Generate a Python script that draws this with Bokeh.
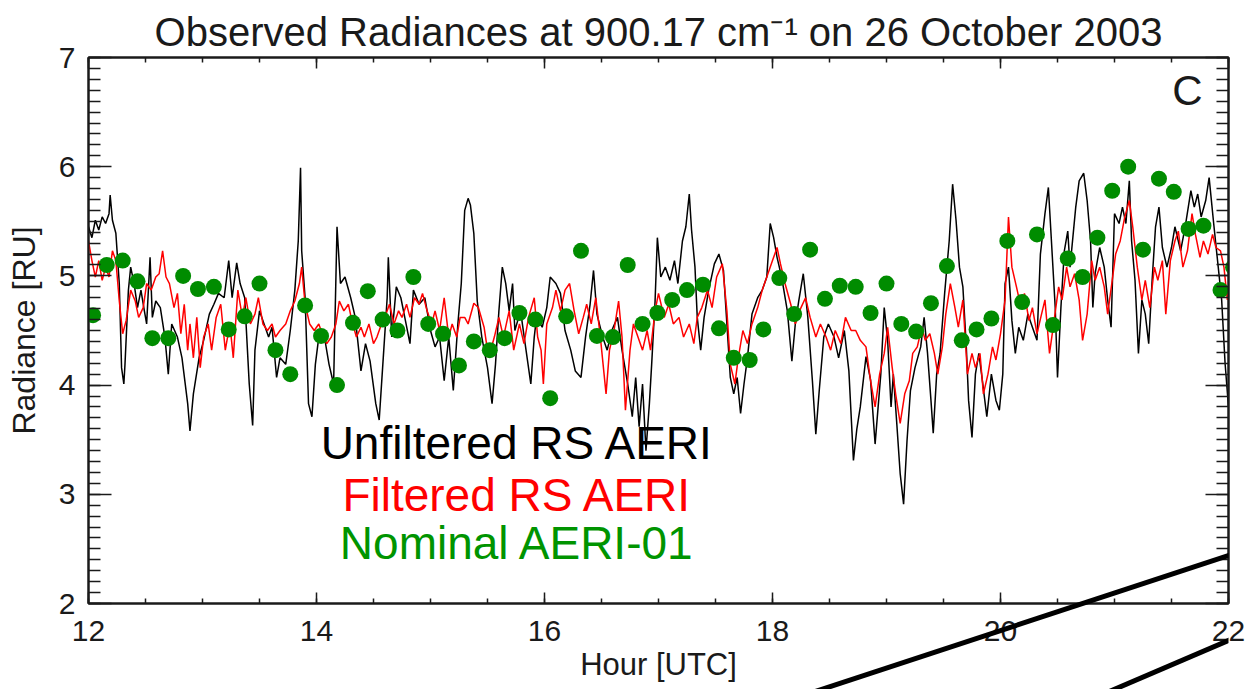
from bokeh.plotting import figure
from bokeh.models import Range1d, SingleIntervalTicker, LinearAxis, Label
from bokeh.layouts import column
from bokeh.embed import file_html
from bokeh.resources import INLINE

# ---------------- data ----------------
unfilt_hour = [12.00, 12.03, 12.06, 12.09, 12.12, 12.15, 12.18, 12.19, 12.21, 12.24,
               12.27, 12.29, 12.31, 12.32, 12.35, 12.37, 12.40, 12.43, 12.46, 12.49,
               12.51, 12.54, 12.56, 12.59, 12.63, 12.67, 12.70, 12.73, 12.78, 12.82,
               12.87, 12.89, 12.92, 12.97, 13.01, 13.06, 13.10, 13.14, 13.19, 13.23,
               13.26, 13.30, 13.33, 13.37, 13.41, 13.44, 13.46, 13.50, 13.54, 13.58,
               13.61, 13.65, 13.68, 13.73, 13.77, 13.81, 13.84, 13.86, 13.87, 13.90,
               13.93, 13.96, 13.99, 14.02, 14.06, 14.11, 14.15, 14.18, 14.21, 14.25,
               14.30, 14.34, 14.39, 14.43, 14.47, 14.52, 14.55, 14.59, 14.62, 14.63,
               14.66, 14.70, 14.74, 14.78, 14.82, 14.85, 14.90, 14.95, 15.00, 15.04,
               15.08, 15.12, 15.16, 15.20, 15.24, 15.27, 15.30, 15.33, 15.35, 15.38,
               15.41, 15.45, 15.50, 15.54, 15.57, 15.60, 15.63, 15.66, 15.69, 15.72,
               15.74, 15.79, 15.83, 15.88, 15.91, 15.93, 15.98, 16.02, 16.05, 16.10,
               16.14, 16.18, 16.23, 16.27, 16.32, 16.36, 16.40, 16.43, 16.46, 16.51,
               16.55, 16.59, 16.64, 16.68, 16.73, 16.77, 16.80, 16.83, 16.86, 16.89,
               16.92, 16.94, 16.97, 16.99, 17.02, 17.06, 17.10, 17.14, 17.17, 17.21,
               17.24, 17.27, 17.29, 17.32, 17.34, 17.37, 17.40, 17.44, 17.49, 17.53,
               17.57, 17.60, 17.63, 17.66, 17.69, 17.72, 17.75, 17.78, 17.82, 17.87,
               17.91, 17.95, 17.98, 18.01, 18.04, 18.08, 18.13, 18.17, 18.20, 18.23,
               18.27, 18.31, 18.35, 18.38, 18.41, 18.45, 18.49, 18.54, 18.58, 18.63,
               18.67, 18.71, 18.74, 18.77, 18.82, 18.86, 18.90, 18.95, 18.98, 19.01,
               19.04, 19.06, 19.09, 19.12, 19.15, 19.18, 19.21, 19.25, 19.30, 19.33,
               19.36, 19.39, 19.41, 19.44, 19.47, 19.51, 19.55, 19.58, 19.61, 19.64,
               19.67, 19.70, 19.72, 19.75, 19.78, 19.81, 19.84, 19.88, 19.92, 19.96,
               19.99, 20.02, 20.04, 20.07, 20.10, 20.13, 20.16, 20.20, 20.24, 20.28,
               20.32, 20.35, 20.39, 20.42, 20.45, 20.48, 20.50, 20.53, 20.56, 20.59,
               20.61, 20.66, 20.69, 20.73, 20.76, 20.79, 20.81, 20.83, 20.87, 20.91,
               20.94, 20.97, 21.00, 21.04, 21.07, 21.10, 21.13, 21.15, 21.18, 21.21,
               21.24, 21.27, 21.30, 21.33, 21.36, 21.39, 21.42, 21.46, 21.50, 21.53,
               21.58, 21.62, 21.67, 21.70, 21.73, 21.76, 21.80, 21.83, 21.87, 21.91,
               21.94, 21.97, 22.00]
unfilt_rad = [5.45, 5.35, 5.51, 5.42, 5.54, 5.48, 5.57, 5.74, 5.51, 5.39,
              4.93, 4.16, 4.01, 4.19, 4.87, 5.08, 4.93, 4.71, 4.87, 4.68,
              4.56, 5.17, 4.62, 4.77, 4.71, 4.44, 4.10, 4.56, 4.44, 4.25,
              3.83, 3.58, 3.92, 4.25, 4.41, 4.65, 4.74, 4.84, 4.80, 5.14,
              4.80, 5.12, 4.93, 4.80, 4.01, 3.63, 4.32, 4.68, 4.56, 4.44,
              4.53, 4.07, 4.25, 4.19, 4.50, 4.87, 5.32, 5.99, 5.23, 4.80,
              3.83, 3.71, 4.19, 4.44, 4.50, 4.19, 4.01, 5.45, 4.93, 4.99,
              4.80, 4.62, 4.13, 4.38, 4.22, 3.83, 3.68, 4.32, 4.80, 5.17,
              4.44, 4.90, 4.80, 4.59, 4.38, 4.87, 4.74, 4.80, 4.50, 4.35,
              4.44, 4.04, 4.44, 3.95, 4.56, 4.93, 5.60, 5.71, 5.65, 5.39,
              4.77, 4.44, 4.16, 3.83, 4.19, 4.68, 5.08, 4.93, 4.68, 4.93,
              4.50, 4.68, 4.38, 4.01, 4.44, 4.62, 4.53, 4.71, 4.99, 4.93,
              4.84, 4.50, 4.32, 4.13, 4.07, 4.44, 4.74, 5.05, 4.65, 4.44,
              4.32, 4.50, 4.62, 4.32, 4.01, 3.71, 4.07, 3.62, 4.01, 3.40,
              3.83, 4.19, 4.77, 5.35, 4.99, 5.08, 4.96, 5.14, 4.93, 5.32,
              5.45, 5.75, 5.42, 5.08, 4.62, 4.32, 4.62, 4.87, 5.11, 5.20,
              5.05, 4.56, 4.07, 3.92, 4.07, 3.74, 4.01, 4.25, 4.65, 4.80,
              4.87, 4.99, 5.48, 5.35, 5.17, 4.99, 4.68, 4.22, 4.56, 4.77,
              5.02, 4.62, 4.04, 3.55, 3.95, 4.44, 4.56, 4.44, 4.25, 4.50,
              4.13, 3.31, 3.60, 3.80, 4.26, 4.05, 3.46, 4.10, 4.71, 4.41,
              3.80, 4.10, 3.65, 3.19, 2.91, 3.49, 3.95, 4.16, 4.35, 4.62,
              4.29, 3.86, 3.56, 4.10, 4.29, 4.84, 5.32, 5.84, 5.51, 5.08,
              4.90, 4.35, 3.86, 3.52, 4.10, 4.29, 4.05, 3.71, 4.10, 3.86,
              3.77, 4.10, 4.93, 5.08, 4.59, 4.29, 4.53, 4.41, 4.65, 4.53,
              4.41, 5.20, 5.57, 5.81, 5.26, 4.71, 4.07, 4.71, 5.23, 5.41,
              5.08, 5.63, 5.87, 5.94, 5.69, 5.32, 4.71, 5.02, 5.26, 5.08,
              4.78, 4.53, 5.57, 5.48, 5.63, 5.48, 5.87, 5.32, 4.96, 4.29,
              4.78, 4.65, 4.38, 4.96, 5.45, 5.63, 5.26, 5.08, 5.26, 5.45,
              5.23, 5.45, 5.78, 5.63, 5.75, 5.54, 5.69, 5.90, 5.48, 5.08,
              4.78, 4.20, 3.80]

filt_hour = [12.00, 12.03, 12.06, 12.09, 12.12, 12.15, 12.18, 12.21, 12.24, 12.27,
             12.30, 12.33, 12.37, 12.41, 12.44, 12.48, 12.51, 12.55, 12.59, 12.62,
             12.65, 12.68, 12.71, 12.75, 12.78, 12.81, 12.84, 12.87, 12.89, 12.92,
             12.95, 12.98, 13.01, 13.05, 13.08, 13.12, 13.16, 13.20, 13.24, 13.27,
             13.31, 13.35, 13.38, 13.42, 13.46, 13.49, 13.53, 13.57, 13.61, 13.64,
             13.68, 13.73, 13.77, 13.81, 13.85, 13.87, 13.90, 13.94, 13.98, 14.02,
             14.06, 14.09, 14.13, 14.17, 14.20, 14.24, 14.28, 14.31, 14.35, 14.39,
             14.42, 14.46, 14.50, 14.53, 14.57, 14.61, 14.64, 14.68, 14.72, 14.75,
             14.79, 14.82, 14.86, 14.90, 14.93, 14.97, 15.01, 15.04, 15.08, 15.12,
             15.16, 15.19, 15.23, 15.26, 15.30, 15.33, 15.38, 15.42, 15.47, 15.51,
             15.56, 15.60, 15.64, 15.69, 15.73, 15.78, 15.82, 15.86, 15.91, 15.94,
             15.97, 15.99, 16.02, 16.07, 16.10, 16.14, 16.18, 16.22, 16.26, 16.30,
             16.34, 16.37, 16.41, 16.45, 16.49, 16.54, 16.57, 16.61, 16.65, 16.68,
             16.71, 16.75, 16.78, 16.82, 16.86, 16.90, 16.93, 16.97, 17.00, 17.05,
             17.09, 17.13, 17.18, 17.22, 17.27, 17.31, 17.34, 17.38, 17.43, 17.47,
             17.51, 17.56, 17.60, 17.63, 17.67, 17.70, 17.74, 17.78, 17.82, 17.87,
             17.91, 17.95, 18.00, 18.04, 18.07, 18.11, 18.16, 18.20, 18.25, 18.29,
             18.33, 18.38, 18.42, 18.47, 18.51, 18.55, 18.60, 18.64, 18.69, 18.73,
             18.77, 18.82, 18.86, 18.90, 18.94, 18.98, 19.01, 19.05, 19.08, 19.12,
             19.16, 19.20, 19.23, 19.27, 19.31, 19.34, 19.38, 19.42, 19.45, 19.49,
             19.52, 19.56, 19.60, 19.63, 19.67, 19.71, 19.75, 19.78, 19.82, 19.85,
             19.89, 19.93, 19.96, 20.00, 20.04, 20.07, 20.10, 20.14, 20.18, 20.21,
             20.25, 20.28, 20.32, 20.36, 20.39, 20.43, 20.47, 20.51, 20.54, 20.58,
             20.61, 20.65, 20.69, 20.72, 20.76, 20.80, 20.83, 20.87, 20.91, 20.94,
             20.98, 21.01, 21.05, 21.09, 21.13, 21.16, 21.20, 21.24, 21.27, 21.31,
             21.35, 21.38, 21.42, 21.45, 21.49, 21.53, 21.56, 21.60, 21.64, 21.68,
             21.71, 21.75, 21.78, 21.82, 21.86, 21.89, 21.93, 21.96, 21.99, 22.00]
filt_rad = [5.32, 5.14, 4.99, 5.14, 4.96, 5.08, 4.99, 5.23, 5.14, 4.77,
            4.47, 4.59, 4.87, 4.77, 4.62, 4.71, 4.93, 4.87, 4.99, 5.02,
            5.23, 4.99, 4.93, 4.71, 4.84, 4.47, 4.74, 4.32, 4.56, 4.25,
            4.62, 4.16, 4.44, 4.56, 4.32, 4.62, 4.74, 4.32, 4.56, 4.25,
            4.87, 4.62, 4.80, 4.56, 4.65, 4.80, 4.56, 4.50, 4.56, 4.44,
            4.50, 4.56, 4.68, 4.77, 4.93, 5.08, 4.74, 4.56, 4.50, 4.56,
            4.44, 4.38, 4.44, 4.56, 4.77, 4.68, 4.74, 4.59, 4.44, 4.53,
            4.44, 4.56, 4.38, 4.44, 4.56, 4.65, 4.74, 4.56, 4.68, 4.62,
            4.74, 4.62, 4.80, 4.74, 4.84, 4.68, 4.56, 4.68, 4.50, 4.80,
            4.44, 4.56, 4.44, 4.62, 4.62, 4.56, 4.75, 4.71, 4.53, 4.25,
            4.44, 4.62, 4.44, 4.68, 4.32, 4.56, 4.38, 4.62, 4.80, 4.44,
            4.32, 4.01, 4.56, 4.71, 4.87, 4.68, 4.87, 4.93, 4.68, 4.47,
            4.62, 4.74, 4.56, 4.80, 4.44, 3.92, 4.32, 4.50, 4.77, 4.44,
            3.77, 4.32, 4.56, 4.44, 4.32, 4.50, 4.32, 4.68, 4.84, 4.62,
            4.74, 4.56, 4.62, 4.44, 4.56, 4.38, 4.62, 4.71, 4.87, 4.71,
            4.99, 5.11, 4.68, 4.19, 4.01, 4.25, 4.50, 4.38, 4.56, 4.71,
            4.87, 4.99, 5.14, 5.26, 5.11, 4.93, 4.74, 4.56, 4.71, 4.80,
            4.62, 4.44, 4.56, 4.44, 4.32, 4.50, 4.38, 4.62, 4.50, 4.50,
            4.41, 4.35, 4.04, 3.80, 4.10, 4.29, 4.53, 4.16, 3.92, 3.65,
            3.92, 4.04, 4.29, 4.35, 4.53, 4.41, 4.47, 4.29, 4.10, 4.35,
            4.65, 4.93, 4.71, 4.53, 4.78, 4.10, 4.29, 4.16, 4.29, 3.92,
            4.10, 4.35, 4.23, 4.47, 4.78, 5.54, 5.08, 4.90, 4.71, 4.84,
            4.59, 4.71, 4.47, 4.65, 4.78, 4.29, 4.59, 4.90, 4.78, 5.08,
            4.90, 5.02, 4.78, 4.41, 4.65, 5.14, 4.96, 5.08, 4.90, 4.65,
            4.96, 5.20, 5.32, 5.54, 5.69, 5.45, 5.08, 4.78, 4.96, 4.71,
            5.08, 4.96, 5.14, 4.65, 5.14, 5.32, 5.41, 5.08, 5.23, 5.57,
            5.38, 5.17, 5.32, 5.20, 5.38, 5.26, 5.23, 5.08, 4.78, 4.87]

nominal_hour = [12.04, 12.16, 12.30, 12.43, 12.56, 12.70, 12.83, 12.96, 13.10, 13.23,
                13.37, 13.50, 13.64, 13.77, 13.90, 14.04, 14.18, 14.32, 14.45, 14.58,
                14.71, 14.85, 14.98, 15.11, 15.25, 15.38, 15.52, 15.65, 15.78, 15.92,
                16.05, 16.19, 16.32, 16.46, 16.60, 16.73, 16.86, 16.99, 17.12, 17.25,
                17.39, 17.53, 17.66, 17.80, 17.92, 18.06, 18.19, 18.33, 18.46, 18.59,
                18.73, 18.86, 19.00, 19.13, 19.26, 19.39, 19.53, 19.66, 19.79, 19.92,
                20.06, 20.19, 20.32, 20.46, 20.59, 20.72, 20.85, 20.98, 21.12, 21.25,
                21.39, 21.52, 21.65, 21.78, 21.93, 22.04]
nominal_rad = [4.64, 5.10, 5.14, 4.95, 4.43, 4.43, 5.00, 4.88, 4.90, 4.51,
               4.63, 4.93, 4.32, 4.10, 4.73, 4.45, 4.00, 4.57, 4.86, 4.60,
               4.50, 4.99, 4.56, 4.47, 4.18, 4.40, 4.32, 4.43, 4.66, 4.60,
               3.88, 4.63, 5.23, 4.45, 4.44, 5.10, 4.56, 4.66, 4.78, 4.87,
               4.92, 4.52, 4.25, 4.23, 4.51, 4.98, 4.65, 5.24, 4.79, 4.91,
               4.90, 4.66, 4.93, 4.56, 4.49, 4.75, 5.09, 4.41, 4.51, 4.61,
               5.32, 4.76, 5.38, 4.55, 5.16, 4.99, 5.35, 5.78, 6.00, 5.24,
               5.89, 5.77, 5.43, 5.46, 4.87, 5.08]

legend_names = ["Unfiltered RS AERI", "Filtered RS AERI", "Nominal AERI-01"]
title_text = "Observed Radiances at 900.17 cm\u207b\u00b9 on 26 October 2003"
panel_letter = "C"

# two stray black strokes across the lower right of the original image (hour, radiance)
stroke_hours = [[18.05, 22.30], [20.90, 22.30]]
stroke_rads = [[1.15, 2.487], [1.15, 1.723]]

# ---------------- styling ----------------
W, H = 1245, 689
FONT = "Liberation Sans"
INK = "#1a1a1a"
BLACK = "#000000"
RED = "#ff0000"
GREEN = "#008c00"
GREEN_TXT = "#009400"

p = figure(width=W, height=H, x_range=Range1d(12, 22), y_range=Range1d(2, 7),
           output_backend="svg", toolbar_location=None,
           min_border_left=88, min_border_right=17, min_border_top=57, min_border_bottom=86,
           x_axis_label="Hour [UTC]", y_axis_label="Radiance [RU]",
           title=title_text)
p.title.text_font = FONT
p.title.text_font_size = "40px"
p.title.text_font_style = "normal"
p.title.text_color = INK
p.title.align = "center"
p.title.standoff = 8
p.xgrid.visible = False
p.ygrid.visible = False
p.outline_line_color = INK
p.outline_line_width = 2
p.background_fill_color = "white"
p.border_fill_color = "white"

xt = SingleIntervalTicker(interval=2, num_minor_ticks=4)
yt = SingleIntervalTicker(interval=1, num_minor_ticks=10)
p.xaxis.ticker = xt
p.yaxis.ticker = yt


def style_axis(ax, major_in, minor_in):
    ax.axis_line_color = INK
    ax.axis_line_width = 2
    ax.major_tick_in = major_in
    ax.major_tick_out = 0
    ax.minor_tick_in = minor_in
    ax.minor_tick_out = 0
    ax.major_tick_line_color = INK
    ax.major_tick_line_width = 1.5
    ax.minor_tick_line_color = INK
    ax.minor_tick_line_width = 1.5
    ax.major_label_text_font = FONT
    ax.major_label_text_color = INK
    ax.axis_label_text_font = FONT
    ax.axis_label_text_font_style = "normal"
    ax.axis_label_text_color = INK


for ax in p.xaxis:
    style_axis(ax, 11, 5)
    ax.major_label_text_font_size = "30px"
    ax.major_label_standoff = 17
    ax.axis_label_text_font_size = "31px"
    ax.axis_label_standoff = 3
for ax in p.yaxis:
    style_axis(ax, 23, 12)
    ax.major_label_text_font_size = "30px"
    ax.major_label_standoff = 13
    ax.axis_label_text_font_size = "32px"
    ax.axis_label_standoff = 14

right_ax = LinearAxis(ticker=yt)
style_axis(right_ax, 23, 12)
right_ax.major_label_text_font_size = "1px"
right_ax.major_label_text_alpha = 0
right_ax.major_label_standoff = 0
p.add_layout(right_ax, "right")

top_ax = LinearAxis(ticker=xt)
style_axis(top_ax, 11, 5)
top_ax.major_label_text_font_size = "1px"
top_ax.major_label_text_alpha = 0
top_ax.major_label_standoff = 0
p.add_layout(top_ax, "above")

# ---------------- data marks ----------------
p.line(unfilt_hour, unfilt_rad, line_color=BLACK, line_width=1.5)
p.line(filt_hour, filt_rad, line_color=RED, line_width=1.5)
p.scatter(nominal_hour, nominal_rad, size=16, fill_color=GREEN, line_color=None)

# ---------------- in-plot texts ----------------
def add_text(text, x, y, size, color, align="left"):
    p.add_layout(Label(x=x, y=y, x_units="screen", y_units="screen", text=text,
                       text_font=FONT, text_font_size=f"{size}px", text_color=color,
                       text_align=align, text_baseline="alphabetic"))

add_text(panel_letter, 1099, 513, 42, INK, "center")
add_text(legend_names[0], 429, 161, 46, BLACK, "center")
add_text(legend_names[1], 429, 109, 46, RED, "center")
add_text(legend_names[2], 429, 61, 46, GREEN_TXT, "center")

# ---------------- transparent overlay carrying the stray strokes ----------------
# same hour/radiance mapping as the main plot, extended to the full page
ov = figure(width=W, height=H, output_backend="svg", toolbar_location=None,
            x_range=Range1d(12 - 88 / 114, 12 + (W - 88) / 114),
            y_range=Range1d(7 - (H - 57) / 109.2, 7 + 57 / 109.2),
            x_axis_type=None, y_axis_type=None, min_border=0)
ov.outline_line_color = None
ov.background_fill_alpha = 0
ov.border_fill_alpha = 0
ov.xgrid.visible = False
ov.ygrid.visible = False
ov.multi_line(stroke_hours, stroke_rads, line_color=BLACK, line_width=5)
ov.margin = (-H, 0, 0, 0)

layout = column(p, ov)
layout.margin = 0

open("out.html", "w").write(file_html(layout, INLINE))
